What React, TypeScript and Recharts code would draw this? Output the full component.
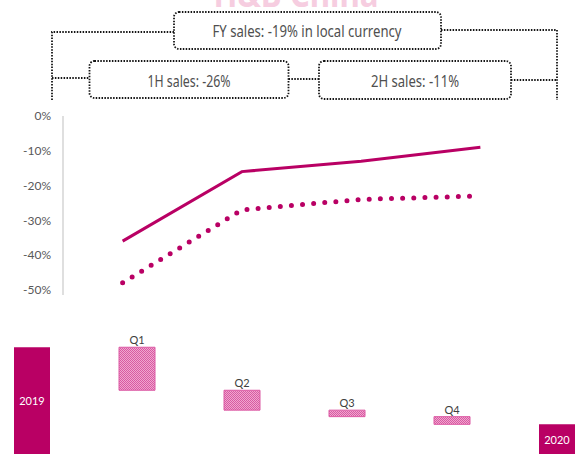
import React from 'react'
import { LineChart, Line, XAxis, YAxis, BarChart, Bar, Cell, LabelList } from 'recharts'

// quarterly change vs last year, %
const quarters = ['Q1', 'Q2', 'Q3', 'Q4']
const salesChange = [-36, -16, -13, -9]
const trafficChange = [-48, -27, -24, -23]
const yTicks = [0, -10, -20, -30, -40, -50]

// sales bridge 2019 -> 2020 (index, 2019 = 100)
const bridgeLabels = ['2019', 'Q1', 'Q2', 'Q3', 'Q4', '2020']
const bridgeStart = 100
const bridgeSteps = [-10.6, -4.9, -1.6, -1.9]

const title = 'H&B China'
const periodNotes = ['FY sales: -19% in local currency', '1H sales: -26%', '2H sales: -11%']

const MAGENTA = '#b90064'
const NOTE_FONT = '"Noto Sans", "Open Sans", sans-serif'
const BRIDGE_FLOOR = 70
const BRIDGE_TOP = 331
const VISIBLE_BOTTOM = 454 - BRIDGE_TOP

const lineData = quarters.map((q, i) => ({
    q,
    sales: salesChange[i],
    traffic: trafficChange[i]
}))

const buildBridge = () => {
    let level = bridgeStart
    return bridgeLabels.map((name, i) => {
        if (i === 0) return { name, range: [BRIDGE_FLOOR, bridgeStart], total: true }
        if (i === bridgeLabels.length - 1) return { name, range: [BRIDGE_FLOOR, level], total: true }
        const next = level + bridgeSteps[i - 1]
        const range = [next, level]
        level = next
        return { name, range, total: false }
    })
}
const bridgeData = buildBridge()

const renderBridgeLabel = (props: any) => {
    const { x, y, width, height, index } = props
    const d = bridgeData[index]
    if (!d) return null
    const top = Math.min(y, y + height)
    const bottom = Math.max(y, y + height)
    const cx = x + width / 2
    if (d.total) {
        return (
            <text x={cx} y={(top + Math.min(bottom, VISIBLE_BOTTOM)) / 2} fill="#fff" fontSize={11}
                fontFamily="Lato" textAnchor="middle" dominantBaseline="central">
                {d.name}
            </text>
        )
    }
    return (
        <text x={cx} y={top - 3} fill="#404040" fontSize={11} fontFamily="Lato" textAnchor="middle">
            {d.name}
        </text>
    )
}

const dotted = { stroke: '#151515', strokeWidth: 1.8, strokeDasharray: '1.5 1.4', fill: 'none' }

// condensed note text, squeezed to the box width
const Note = ({ x, y, w, children }: { x: number; y: number; w: number; children: string }) => (
    <text x={x} y={y} textLength={w} lengthAdjust="spacingAndGlyphs" fill="#4f4f4f" fontSize={15.5}
        fontFamily={NOTE_FONT} textAnchor="middle" dominantBaseline="central">
        {children}
    </text>
)

const PeriodBrackets = () => (
    <svg width={578} height={110} style={{ position: 'absolute', left: 0, top: 0 }}>
        <text x={296} y={7} fill="#f6cde0" fontSize={36} fontWeight="bold" fontFamily={NOTE_FONT}
            textAnchor="middle" textLength={165} lengthAdjust="spacingAndGlyphs">
            {title}
        </text>
        <path d="M174 32 H52 V100 M52 78 H89.5 M288.5 79 H319 M441 30 H557 V100 M511 80 H557" {...dotted} />
        <rect x={174} y={12} width={267} height={37} rx={5} {...dotted} />
        <rect x={89.5} y={61} width={199} height={37} rx={5} {...dotted} />
        <rect x={319} y={61} width={192} height={38} rx={5} {...dotted} />
        <Note x={307} y={31} w={189}>{periodNotes[0]}</Note>
        <Note x={189} y={81} w={83}>{periodNotes[1]}</Note>
        <Note x={415} y={81} w={88}>{periodNotes[2]}</Note>
    </svg>
)

const App = () => {
    return (
        <div style={{ position: 'fixed', left: 0, top: 0, width: 578, height: 454, overflow: 'hidden', background: '#fff' }}>
            <PeriodBrackets />

            <div style={{ position: 'absolute', left: 0, top: 106 }}>
                <LineChart width={540} height={197} data={lineData} margin={{ top: 10, right: 0, left: 0, bottom: 8 }}>
                    <XAxis dataKey="q" hide scale="band" />
                    <YAxis
                        width={63}
                        domain={[-51.5, 0]}
                        ticks={yTicks}
                        interval={0}
                        tickFormatter={(v: number) => `${v}%`}
                        axisLine={{ stroke: '#bfbfbf' }}
                        tickLine={{ stroke: 'none' }}
                        tickSize={10}
                        tickMargin={2}
                        tick={{ fill: '#595959', fontSize: 12, fontFamily: 'Lato' }}
                    />
                    <Line type="linear" dataKey="sales" stroke={MAGENTA} strokeWidth={3} dot={false} isAnimationActive={false} />
                    <Line
                        type="linear"
                        dataKey="traffic"
                        stroke={MAGENTA}
                        strokeWidth={5}
                        strokeDasharray="0 11.15"
                        strokeLinecap="round"
                        dot={false}
                        isAnimationActive={false}
                    />
                </LineChart>
            </div>

            <div style={{ position: 'absolute', left: -21, top: BRIDGE_TOP }}>
                <BarChart width={630} height={138} data={bridgeData} margin={{ top: 0, right: 0, left: 0, bottom: 0 }}>
                    <defs>
                        <pattern id="quarterHatch" width={2} height={2} patternUnits="userSpaceOnUse">
                            <rect width={2} height={2} fill="#f0a6cf" />
                            <rect width={1} height={1} fill="#d85aa2" />
                            <rect x={1} y={1} width={1} height={1} fill="#d85aa2" />
                        </pattern>
                    </defs>
                    <XAxis dataKey="name" hide />
                    <YAxis hide domain={[BRIDGE_FLOOR, 104]} />
                    <Bar dataKey="range" barSize={36} isAnimationActive={false}>
                        {bridgeData.map((d) => (
                            <Cell
                                key={d.name}
                                fill={d.total ? MAGENTA : 'url(#quarterHatch)'}
                                stroke={d.total ? 'none' : '#dc5aa4'}
                                strokeWidth={1}
                            />
                        ))}
                        <LabelList dataKey="name" content={renderBridgeLabel} />
                    </Bar>
                </BarChart>
            </div>
        </div>
    )
}

export default App
